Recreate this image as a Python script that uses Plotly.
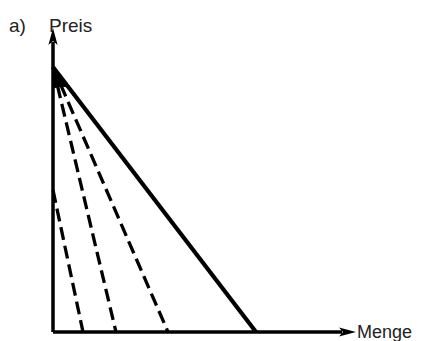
import plotly.graph_objects as go

# --- data (schematic units: origin at 0,0) ---
preis_achse_max = 304      # end of price axis (arrow tip)
menge_achse_max = 303      # end of quantity axis (arrow tip)

# demand curves: (price intercept, quantity intercept)
solid_preis = [265]
solid_menge = [203]
dashed_preis = [265, 265, 142]
dashed_menge = [115, 63, 30]

labels = {"panel": "a)", "y": "Preis", "x": "Menge"}

# --- styles ---
INK = "#000000"
TXT = "#222222"
FONT = "Liberation Sans, Arial, sans-serif"
PAGE_MARGIN = 8           # default body margin of the html page
W, H = 422 - PAGE_MARGIN, 341 - PAGE_MARGIN
X0, Y0 = 53 - PAGE_MARGIN, 332 - PAGE_MARGIN  # origin position inside the figure
ARROW_LEN, ARROW_HALF = 16, 4.6

fig = go.Figure()

# axes lines
fig.add_trace(go.Scatter(x=[0, 0], y=[0, preis_achse_max - ARROW_LEN + 2], mode="lines",
                         line=dict(color=INK, width=3.5), hoverinfo="skip"))
fig.add_trace(go.Scatter(x=[0, menge_achse_max - ARROW_LEN + 2], y=[0, 0], mode="lines",
                         line=dict(color=INK, width=3.5), hoverinfo="skip"))

# arrowheads (computed from axis ends)
ty = preis_achse_max
fig.add_shape(type="path", xref="x", yref="y", fillcolor=INK, line=dict(width=0),
              path=f"M0,{ty} L{ARROW_HALF},{ty-ARROW_LEN-1} L0,{ty-ARROW_LEN+3} L{-ARROW_HALF},{ty-ARROW_LEN-1} Z")
tx = menge_achse_max
fig.add_shape(type="path", xref="x", yref="y", fillcolor=INK, line=dict(width=0),
              path=f"M{tx},0 L{tx-ARROW_LEN-1},{ARROW_HALF} L{tx-ARROW_LEN+3},0 L{tx-ARROW_LEN-1},{-ARROW_HALF} Z")

# dashed demand curves
for p, m in zip(dashed_preis, dashed_menge):
    fig.add_trace(go.Scatter(x=[0, m], y=[p, 0], mode="lines",
                             line=dict(color=INK, width=3.3, dash="13px,6px"), hoverinfo="skip"))

# solid demand curve
for p, m in zip(solid_preis, solid_menge):
    fig.add_trace(go.Scatter(x=[0, m], y=[p, 0], mode="lines",
                             line=dict(color=INK, width=4.2), hoverinfo="skip"))

# apex wedge where the curves converge
ap = solid_preis[0]
fig.add_trace(go.Scatter(x=[0, 0, dashed_menge[0] * 0.07, solid_menge[0] * 0.075, 0],
                         y=[ap, ap - 21, ap - 19, ap - 20, ap],
                         mode="lines", fill="toself", fillcolor=INK,
                         line=dict(color=INK, width=1), hoverinfo="skip"))

# labels
fig.add_annotation(x=-35.5, y=307, text=labels["panel"], showarrow=False, xanchor="center",
                   yanchor="middle", font=dict(family=FONT, size=19, color=TXT))
fig.add_annotation(x=-6, y=307, text=labels["y"], showarrow=False, xanchor="left",
                   yanchor="middle", font=dict(family=FONT, size=19, color=TXT))
fig.add_annotation(x=menge_achse_max - 1, y=0, text=labels["x"], showarrow=False, xanchor="left",
                   yanchor="middle", font=dict(family=FONT, size=18, color=TXT))

fig.update_layout(
    width=W, height=H, margin=dict(l=0, r=0, t=0, b=0),
    paper_bgcolor="white", plot_bgcolor="white", showlegend=False,
    xaxis=dict(range=[-X0, W - X0], visible=False, fixedrange=True),
    yaxis=dict(range=[Y0 - H, Y0], visible=False, fixedrange=True),
)

fig.write_html("out.html")
